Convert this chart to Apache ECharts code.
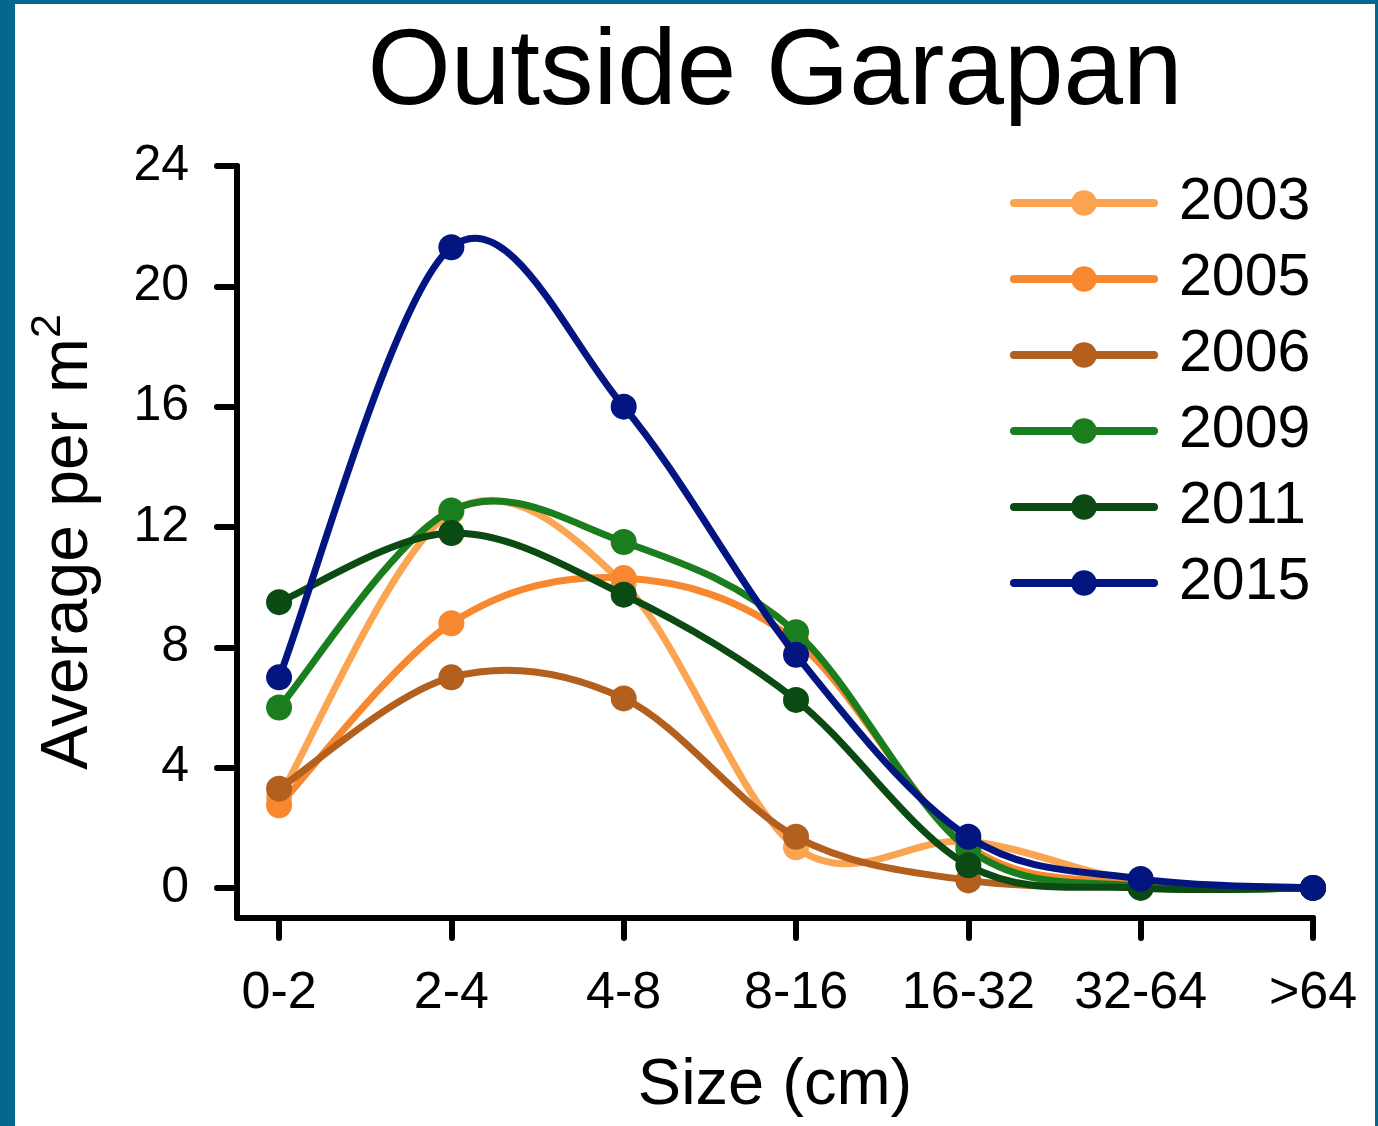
<!DOCTYPE html>
<html>
<head>
<meta charset="utf-8">
<script src="https://cdn.jsdelivr.net/npm/echarts@6/dist/echarts.min.js"></script>
<style>
  html, body { margin: 0; padding: 0; background: #ffffff; }
  #chart { position: absolute; left: 0; top: 0; width: 1378px; height: 1126px; }
  #frame { position: absolute; left: 0; top: 0; width: 1378px; height: 1126px; box-sizing: border-box;
           border-left: 15px solid #07668E; border-top: 4px solid #07668E; border-right: 3px solid #07668E;
           pointer-events: none; }
</style>
</head>
<body>
<div id="chart"></div>
<div id="frame"></div>
<script>
const categories = ['0-2', '2-4', '4-8', '8-16', '16-32', '32-64', '>64'];
const yTicks = [0, 4, 8, 12, 16, 20, 24];
const years = ['2003', '2005', '2006', '2009', '2011', '2015'];
const v2003 = [3.0, 12.5, 10.1, 1.35, 1.55, 0.2, 0];
const v2005 = [2.75, 8.8, 10.3, 8.2, 1.4, 0.15, 0];
const v2006 = [3.3, 7.0, 6.3, 1.7, 0.25, 0.05, 0];
const v2009 = [6.0, 12.55, 11.5, 8.5, 1.3, 0.05, 0];
const v2011 = [9.5, 11.8, 9.75, 6.25, 0.75, 0.0, 0];
const v2015 = [7.0, 21.3, 16.0, 7.75, 1.7, 0.3, 0];
const values = [v2003, v2005, v2006, v2009, v2011, v2015];
const colors = ['#FBA452', '#F7882F', '#B35F1E', '#1A7D1E', '#0B4A12', '#031580'];

const FONT = '"Liberation Sans", Arial, sans-serif';
const LINE_W = 7;
const chart = echarts.init(document.getElementById('chart'), null, { renderer: 'canvas' });

// Smooth curve (Catmull-Rom style Bezier) through the points, positioned by the axes via api.coord
function curveRenderer(vals, color) {
  return function (params, api) {
    if (params.dataIndex !== 0) return null;
    const p = vals.map((v, j) => api.coord([j, v]));
    const n = p.length;
    const P = k => p[Math.max(0, Math.min(n - 1, k))];
    const children = [];
    for (let i = 0; i < n - 1; i++) {
      const p0 = P(i - 1), p1 = P(i), p2 = P(i + 1), p3 = P(i + 2);
      children.push({
        type: 'bezierCurve',
        shape: {
          x1: p1[0], y1: p1[1], x2: p2[0], y2: p2[1],
          cpx1: p1[0] + (p2[0] - p0[0]) / 6, cpy1: p1[1] + (p2[1] - p0[1]) / 6,
          cpx2: p2[0] - (p3[0] - p1[0]) / 6, cpy2: p2[1] - (p3[1] - p1[1]) / 6
        },
        style: { fill: null, stroke: color, lineWidth: LINE_W, lineCap: 'round', lineJoin: 'round' }
      });
    }
    return { type: 'group', children: children };
  };
}

const series = [];
years.forEach((y, i) => {
  const data = values[i].map((v, j) => [j, v]);
  series.push({
    name: y + ' curve',
    type: 'custom',
    coordinateSystem: 'cartesian2d',
    encode: { x: 0, y: 1 },
    data: data,
    renderItem: curveRenderer(values[i], colors[i]),
    silent: true,
    z: 2 + 2 * i
  });
  series.push({
    name: y,
    type: 'line',
    symbol: 'circle',
    symbolSize: 26,
    data: data,
    lineStyle: { width: LINE_W, color: colors[i], opacity: 0 },
    itemStyle: { color: colors[i] },
    emphasis: { disabled: true },
    z: 3 + 2 * i
  });
});

chart.setOption({
  animation: false,
  backgroundColor: 'transparent',
  title: {
    text: 'Outside Garapan',
    left: 770,
    textAlign: 'center',
    top: 16,
    textStyle: { fontFamily: FONT, fontSize: 107, fontWeight: 'normal', color: '#000' }
  },
  legend: {
    orient: 'vertical',
    left: 1005,
    top: 168,
    itemWidth: 140,
    itemHeight: 32,
    itemGap: 16,
    data: years,
    lineStyle: { width: 8, opacity: 1, cap: 'round' },
    textStyle: { fontFamily: FONT, fontSize: 59, color: '#000', lineHeight: 60, padding: [0, 0, 0, 20] }
  },
  grid: { left: 237, right: 65, top: 166, bottom: 208, containLabel: false },
  xAxis: {
    type: 'value',
    min: -0.244,
    max: 6,
    name: 'Size (cm)',
    nameLocation: 'middle',
    nameGap: 136,
    nameTextStyle: { fontFamily: FONT, fontSize: 65, color: '#000' },
    axisLine: { show: true, onZero: false, lineStyle: { color: '#000', width: 6 } },
    axisTick: { show: true, length: 20, customValues: [0, 1, 2, 3, 4, 5, 6], lineStyle: { color: '#000', width: 6, cap: 'round' } },
    axisLabel: {
      customValues: [0, 1, 2, 3, 4, 5, 6],
      formatter: v => categories[Math.round(v)],
      margin: 50,
      fontFamily: FONT, fontSize: 52, color: '#000'
    },
    splitLine: { show: false }
  },
  yAxis: {
    type: 'value',
    min: -1,
    max: 24,
    name: 'Average per m{sup|2}',
    nameLocation: 'middle',
    nameGap: 127,
    nameTextStyle: {
      fontFamily: FONT, fontSize: 66, color: '#000',
      rich: { sup: { fontFamily: FONT, fontSize: 43, color: '#000', verticalAlign: 'top', padding: [0, 0, 40, 0] } }
    },
    axisLine: { show: true, onZero: false, lineStyle: { color: '#000', width: 6 } },
    axisTick: { show: true, length: 20, customValues: yTicks, lineStyle: { color: '#000', width: 6, cap: 'round' } },
    axisLabel: { customValues: yTicks, margin: 48, fontFamily: FONT, fontSize: 50, color: '#000' },
    splitLine: { show: false }
  },
  series: series
});
</script>
</body>
</html>
